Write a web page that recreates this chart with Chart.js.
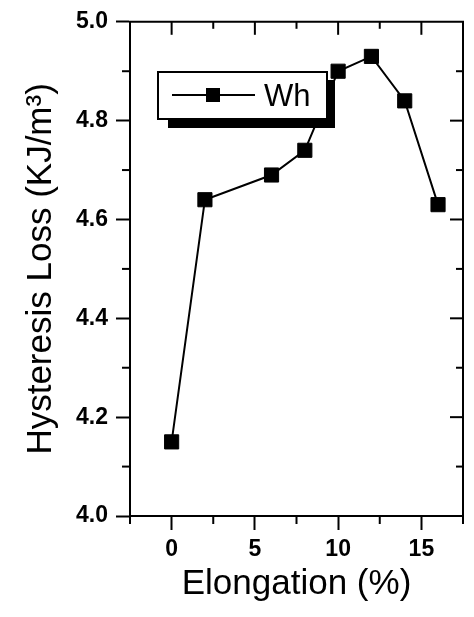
<!DOCTYPE html>
<html>
<head>
<meta charset="utf-8">
<script src="https://cdn.jsdelivr.net/npm/chart.js@4.4.0/dist/chart.umd.min.js"></script>
<style>
html, body { margin: 0; padding: 0; background: #fff; }
</style>
</head>
<body>
<canvas id="grafico" width="474" height="617"></canvas>
<script>
// dados
const elongacao = [0, 2, 6, 8, 10, 12, 14, 16];
const perda = [4.15, 4.64, 4.69, 4.74, 4.90, 4.93, 4.84, 4.63];
const nomeSerie = 'Wh';

// marcas dos eixos
const xMaiores = [0, 5, 10, 15];
const xMenores = [-2.5, 2.5, 7.5, 12.5, 17.5];
const yMaiores = [4.0, 4.2, 4.4, 4.6, 4.8, 5.0];
const yMenores = [4.1, 4.3, 4.5, 4.7, 4.9];

const fonte = 'Liberation Sans, Arial, sans-serif';

// desenha eixos de cima/direita, marcas menores e a legenda com sombra
const eixosPlugin = {
    id: 'eixos',
    afterDraw(chart) {
        const ctx = chart.ctx;
        const a = chart.chartArea;
        const sx = chart.scales.x, sy = chart.scales.y;
        ctx.save();
        ctx.strokeStyle = '#000';
        ctx.lineWidth = 2;

        // borda de cima e da direita
        ctx.beginPath();
        ctx.moveTo(a.left - 1, a.top);
        ctx.lineTo(a.right, a.top);
        ctx.lineTo(a.right, a.bottom + 1);
        ctx.stroke();

        const traco = (x1, y1, x2, y2) => {
            ctx.beginPath(); ctx.moveTo(x1, y1); ctx.lineTo(x2, y2); ctx.stroke();
        };

        // x: menores para fora embaixo, espelho para dentro em cima
        xMenores.forEach(v => {
            const px = sx.getPixelForValue(v);
            traco(px, a.bottom, px, a.bottom + 8);
            if (v > sx.min && v < sx.max) traco(px, a.top, px, a.top + 7);
        });
        xMaiores.forEach(v => {
            const px = sx.getPixelForValue(v);
            traco(px, a.top, px, a.top + 13);
        });

        // y: menores para fora na esquerda, espelho para dentro na direita
        yMenores.forEach(v => {
            const py = sy.getPixelForValue(v);
            traco(a.left, py, a.left - 8, py);
            traco(a.right, py, a.right - 7, py);
        });
        yMaiores.forEach(v => {
            const py = sy.getPixelForValue(v);
            if (v > sy.min && v < sy.max) traco(a.right, py, a.right - 13, py);
        });

        // legenda
        const ds = chart.data.datasets[0];
        ctx.fillStyle = '#000';
        ctx.fillRect(168, 80, 167, 48);
        ctx.fillStyle = '#fff';
        ctx.fillRect(158, 72, 169, 47);
        ctx.strokeStyle = '#000';
        ctx.lineWidth = 2;
        ctx.strokeRect(158, 72, 169, 47);
        traco(172, 95, 255, 95);
        ctx.fillStyle = '#000';
        ctx.fillRect(206, 88, 14, 14);
        ctx.font = '31px ' + fonte;
        ctx.textBaseline = 'alphabetic';
        ctx.fillText(ds.label, 264, 106);
        ctx.restore();
    }
};

new Chart(document.getElementById('grafico'), {
    type: 'line',
    data: {
        datasets: [{
            label: nomeSerie,
            data: elongacao.map((x, i) => ({ x: x, y: perda[i] })),
            borderColor: '#000',
            backgroundColor: '#000',
            borderWidth: 2,
            tension: 0,
            pointStyle: 'rect',
            pointRadius: 10,
            pointBorderWidth: 1,
            pointBackgroundColor: '#000',
            pointBorderColor: '#000'
        }]
    },
    options: {
        responsive: false,
        animation: false,
        devicePixelRatio: 1,
        layout: { padding: { top: 19, right: 5, left: 0, bottom: 0 } },
        plugins: { legend: { display: false }, tooltip: { enabled: false } },
        scales: {
            x: {
                type: 'linear',
                min: -2.5,
                max: 17.5,
                afterBuildTicks: s => { s.ticks = xMaiores.map(v => ({ value: v })); },
                afterFit: s => { s.height = 101; },
                ticks: { color: '#000', font: { family: fonte, size: 23, weight: 'bold' }, padding: 6,
                    callback: v => String(v) },
                grid: { drawOnChartArea: false, drawTicks: true, tickLength: 14, tickWidth: 2, tickColor: '#000' },
                border: { color: '#000', width: 2 },
                title: { display: true, text: 'Elongation (%)', color: '#000',
                    font: { family: fonte, size: 35 }, padding: { top: 0, bottom: 12 } }
            },
            y: {
                min: 4.0,
                max: 5.0,
                afterBuildTicks: s => { s.ticks = yMaiores.map(v => ({ value: v })); },
                afterFit: s => { s.width = 130; },
                ticks: { color: '#000', font: { family: fonte, size: 23, weight: 'bold' }, padding: 8,
                    callback: v => v.toFixed(1) },
                grid: { drawOnChartArea: false, drawTicks: true, tickLength: 14, tickWidth: 2, tickColor: '#000' },
                border: { color: '#000', width: 2 },
                title: { display: true, text: 'Hysteresis Loss (KJ/m³)', color: '#000',
                    font: { family: fonte, size: 35 }, padding: { top: 20, bottom: 0 } }
            }
        }
    },
    plugins: [eixosPlugin]
});
</script>
</body>
</html>
